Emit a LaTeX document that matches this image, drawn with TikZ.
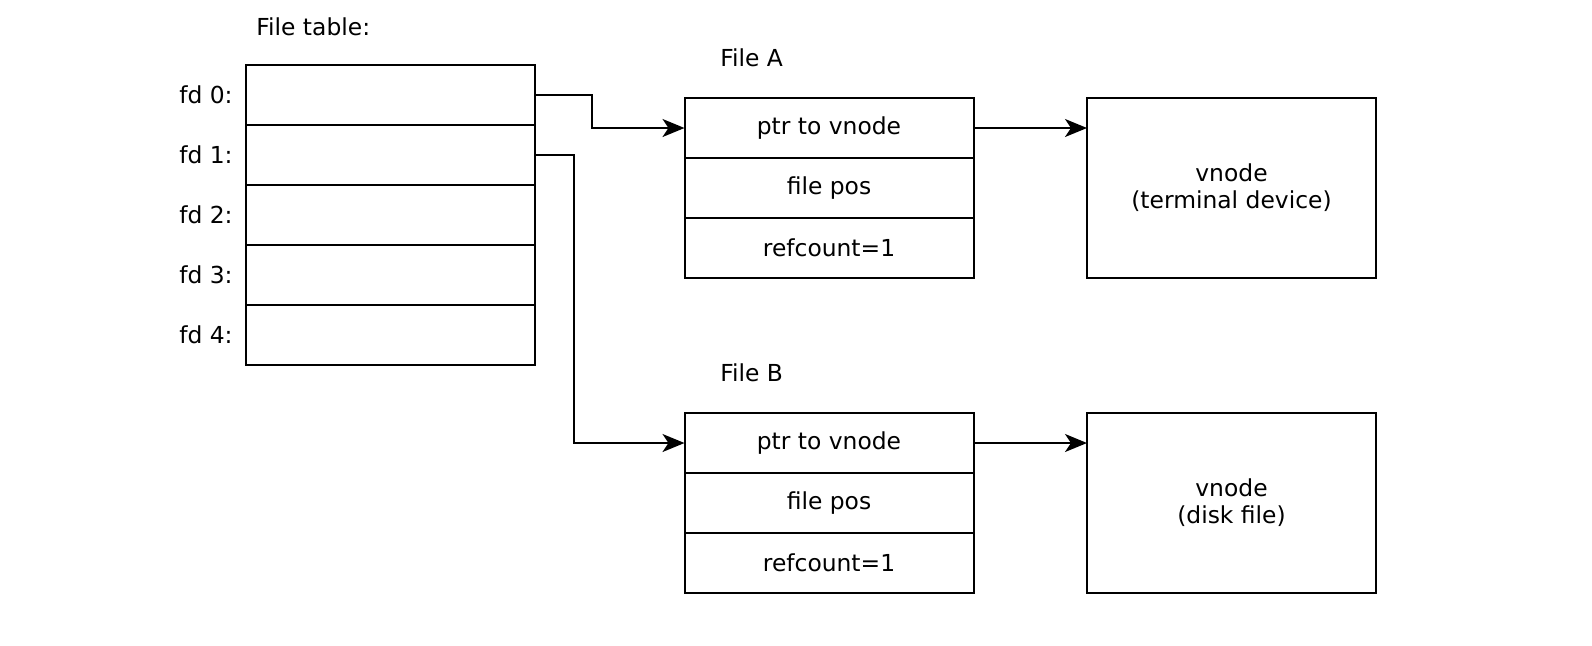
\documentclass[tikz,border=0pt]{standalone}
\usepackage{fontspec}
\setmainfont{DejaVu Sans}
\usetikzlibrary{positioning,arrows.meta}

\tikzset{
  cell/.style={draw, line width=1pt, outer sep=0pt, minimum width=144.5pt, minimum height=30pt, inner sep=0pt},
  vbox/.style={draw, line width=1pt, outer sep=0pt, minimum width=144.5pt, minimum height=90pt, align=center, inner sep=0pt},
  lbl/.style={inner sep=0pt},
  arr/.style={line width=1pt, -{Stealth[length=11pt,width=9pt,inset=3pt]}}
}

\begin{document}
\begin{tikzpicture}[x=0.5pt,y=-0.5pt,font=\fontsize{11.7}{13.5}\selectfont]
\useasboundingbox (0,0) rectangle (1592,645);
% file table
\node[cell] (fd0) at (390.5,95) {};
\node[cell, below=0pt of fd0] (fd1) {};
\node[cell, below=0pt of fd1] (fd2) {};
\node[cell, below=0pt of fd2] (fd3) {};
\node[cell, below=0pt of fd3] (fd4) {};
\foreach \i in {0,...,4}
  \node[lbl, left=6.5pt of fd\i] {fd \i:};
\node[lbl, anchor=west] (ftab) at (256,27) {File table:};
% file A
\node[lbl, anchor=west] (fileA) at (720,58) {File A};
\node[cell] (ptrA) at (829,128) {ptr to vnode};
\node[cell, below=0pt of ptrA] (posA) {file pos};
\node[cell, below=0pt of posA] (refA) {refcount=1};
\node[vbox] (vnA) at (1231.5,188) {vnode\\(terminal device)};
% file B
\node[lbl, anchor=west] (fileB) at (720,373) {File B};
\node[cell] (ptrB) at (829,443) {ptr to vnode};
\node[cell, below=0pt of ptrB] (posB) {file pos};
\node[cell, below=0pt of posB] (refB) {refcount=1};
\node[vbox] (vnB) at (1231.5,503) {vnode\\(disk file)};
% arrows
\draw[arr] (fd0.east) -- ++(57,0) |- (ptrA.west);
\draw[arr] (fd1.east) -- ++(39,0) |- (ptrB.west);
\draw[arr] (ptrA.east) -- (ptrA.east -| vnA.west);
\draw[arr] (ptrB.east) -- (ptrB.east -| vnB.west);
\end{tikzpicture}
\end{document}
